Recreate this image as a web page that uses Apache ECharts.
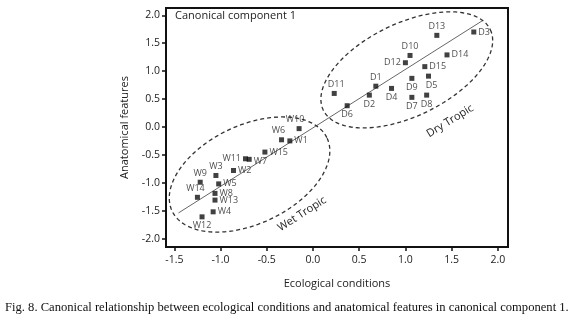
<!DOCTYPE html>
<html lang="en">
<head>
  <meta charset="UTF-8">
  <title>Canonical component 1</title>
  <script src="https://cdn.jsdelivr.net/npm/echarts@6/dist/echarts.min.js"></script>
  <style>
    * { margin: 0; padding: 0; box-sizing: border-box; }
    body { background: #fff; }
    #chart { width: 580px; height: 326px; }
  </style>
</head>
<body>
<div id="chart"></div>
<script>
// tick labels
const xTicks = [-1.5, -1.0, -0.5, 0.0, 0.5, 1.0, 1.5, 2.0];
const yTicks = [-2.0, -1.5, -1.0, -0.5, 0.0, 0.5, 1.0, 1.5, 2.0];

// sites
const siteNames = ['D1','D2','D3','D4','D5','D6','D7','D8','D9','D10','D11','D12','D13','D14','D15',
                   'W1','W2','W3','W4','W5','W6','W7','W8','W9','W10','W11','W12','W13','W14','W15'];
const ecoX = [0.68, 0.61, 1.74, 0.85, 1.25, 0.37, 1.07, 1.23, 1.07, 1.05, 0.23, 1.00, 1.34, 1.45, 1.21,
              -0.25, -0.86, -1.05, -1.08, -1.02, -0.34, -0.69, -1.06, -1.22, -0.15, -0.73, -1.20, -1.06, -1.25, -0.52];
const anaY = [0.73, 0.57, 1.70, 0.69, 0.91, 0.38, 0.53, 0.57, 0.87, 1.28, 0.60, 1.15, 1.64, 1.29, 1.08,
              -0.25, -0.78, -0.87, -1.52, -1.02, -0.23, -0.58, -1.19, -0.99, -0.03, -0.57, -1.61, -1.31, -1.26, -0.45];

// fitted line end points
const fitX = [-1.455, 1.84];
const fitY = [-1.54, 1.91];

// ellipses: centre x, centre y, half-axis u (dx, dy), half-axis v (dx, dy)
const dryEllipse = [1.015, 1.022, 0.904, 0.719, 0.216, -0.751];
const wetEllipse = [-0.686, -0.852, 0.839, 0.651, 0.225, -0.800];

// where each label sits relative to its point
const labelSide = {
  D1:'top', D2:'bottom', D3:'right', D4:'bottom', D5:'bottom', D6:'bottom', D7:'bottom', D8:'bottom',
  D9:'bottom', D10:'top', D11:'top', D12:'left', D13:'top', D14:'right', D15:'right',
  W1:'right', W2:'right', W3:'top', W4:'right', W5:'right', W6:'top', W7:'right', W8:'right',
  W9:'top', W10:'top', W11:'left', W12:'bottom', W13:'right', W14:'top', W15:'right'
};
const labelShift = { W10:[-4,0], W6:[-3,0], W7:[0,2], D5:[3,0], D11:[2,0], W14:[-2,0] };

const FONT = '"Open Sans", "Noto Sans", sans-serif';

const points = siteNames.map((n, i) => ({
  name: n,
  value: [ecoX[i], anaY[i]],
  label: { position: labelSide[n], offset: labelShift[n] || [0, 0] }
}));

function ellipseItem(params, api) {
  const cx = api.value(0), cy = api.value(1);
  const ux = api.value(2), uy = api.value(3), vx = api.value(4), vy = api.value(5);
  const pts = [];
  for (let i = 0; i <= 120; i++) {
    const t = Math.PI * 2 * i / 120;
    pts.push(api.coord([cx + ux * Math.cos(t) + vx * Math.sin(t),
                        cy + uy * Math.cos(t) + vy * Math.sin(t)]));
  }
  return {
    type: 'polyline',
    shape: { points: pts },
    style: { fill: null, stroke: '#333', lineWidth: 1.3, lineDash: [4, 3] }
  };
}

const chart = echarts.init(document.getElementById('chart'));
chart.setOption({
  animation: false,
  grid: {
    left: 166, right: 72, top: 8, bottom: 79,
    show: true, borderColor: '#111', borderWidth: 2
  },
  xAxis: {
    type: 'value', min: -1.59, max: 2.11,
    name: 'Ecological conditions', nameLocation: 'middle', nameGap: 31,
    nameTextStyle: { fontFamily: FONT, fontSize: 11, color: '#222' },
    axisLine: { show: false, onZero: false },
    splitLine: { show: false },
    axisTick: { show: true, length: 4, customValues: xTicks, lineStyle: { color: '#111', width: 1.5 } },
    axisLabel: {
      customValues: xTicks, margin: 8,
      fontFamily: FONT, fontSize: 10.5, color: '#222',
      formatter: v => v.toFixed(1)
    }
  },
  yAxis: {
    type: 'value', min: -2.15, max: 2.13,
    name: 'Anatomical features', nameLocation: 'middle', nameGap: 36,
    nameTextStyle: { fontFamily: FONT, fontSize: 11, color: '#222' },
    axisLine: { show: false, onZero: false },
    splitLine: { show: false },
    axisTick: { show: true, length: 4, customValues: yTicks, lineStyle: { color: '#111', width: 1.5 } },
    axisLabel: {
      customValues: yTicks, margin: 6,
      fontFamily: FONT, fontSize: 10.5, color: '#222',
      formatter: v => v.toFixed(1)
    }
  },
  series: [
    {
      type: 'line',
      data: fitX.map((x, i) => [x, fitY[i]]),
      showSymbol: false,
      lineStyle: { color: '#666', width: 1 },
      z: 1
    },
    {
      type: 'custom',
      renderItem: ellipseItem,
      data: [dryEllipse, wetEllipse],
      encode: { x: 0, y: 1 },
      z: 2
    },
    {
      type: 'scatter',
      data: points,
      symbol: 'rect',
      symbolSize: 5,
      itemStyle: { color: '#111' },
      label: {
        show: true, formatter: '{b}', distance: 2,
        fontFamily: FONT, fontSize: 9, color: '#222'
      },
      z: 3
    }
  ],
  graphic: [
    {
      type: 'text', left: 175, top: 10,
      style: { text: 'Canonical component 1', fontFamily: FONT, fontSize: 11, fill: '#222' }
    },
    {
      type: 'text', x: 450, y: 121, rotation: 0.55,
      style: { text: 'Dry Tropic', fontFamily: FONT, fontSize: 11, fill: '#222', align: 'center', verticalAlign: 'middle' }
    },
    {
      type: 'text', x: 302, y: 214, rotation: 0.57,
      style: { text: 'Wet Tropic', fontFamily: FONT, fontSize: 11, fill: '#222', align: 'center', verticalAlign: 'middle' }
    },
    {
      type: 'text', left: 5, top: 301,
      style: {
        text: 'Fig. 8. Canonical relationship between ecological conditions and anatomical features in canonical component 1.',
        fontFamily: '"Liberation Serif", "DejaVu Serif", serif', fontSize: 12.6, fill: '#111'
      }
    }
  ]
});
</script>
</body>
</html>
